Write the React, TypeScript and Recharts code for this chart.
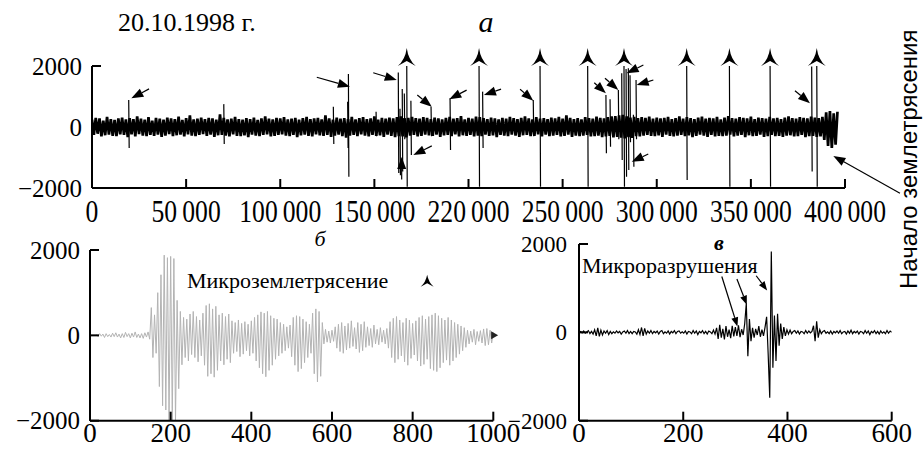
import React from 'react'
import { LineChart, Line, XAxis, YAxis, ReferenceLine, ReferenceDot } from 'recharts'

const SERIF = '"Liberation Serif", "Times New Roman", serif'
const SANS = '"Liberation Sans", Arial, sans-serif'

// ---- panel а: whole record, 20.10.1998 ----
const NOISE_STEP = 1000 // one value per 1000 samples
const quietNoise = [
  240, -260, 300, -220, 280, -310, 210, -270, 330, -250, 260, -290, 230, -300, 280, -240, 310, -260, 250, -330,
  290, -240, 260, -310, 350, -230, 270, -280, 240, -300, 320, -260, 210, -290, 300, -250, 270, -320, 240, -280,
  310, -230, 280, -300, 260, -270, 340, -250, 230, -310, 290, -240, 380, -280, 250, -300, 270, -260, 310, -230,
  260, -290, 300, -250, 280, -320, 240, -270, 410, -260, 300, -280, 250, -310, 270, -240, 330, -290, 260, -300,
  240, -270, 290, -330, 260, -250, 310, -280, 230, -300, 280, -260, 350, -240, 270, -310, 250, -290, 300, -260,
  280, -240, 320, -280, 250, -300, 270, -260, 300, -330, 240, -270, 290, -250, 330, -290, 260, -310, 280, -240,
  300, -270, 250, -290, 380, -260, 280, -320, 240, -280, 310, -250, 270, -300, 290, -350, 260, -280, 330, -260,
  250, -300, 290, -240, 320, -280, 260, -310, 280, -260, 350, -290, 240, -270, 300, -320, 270, -250, 310, -290,
  280, -330, 320, -300, 350, -310, 290, -340, 300, -280, 330, -260, 290, -310, 270, -290, 320, -250, 300, -270,
  260, -290, 310, -250, 280, -320, 250, -270, 300, -260, 330, -300, 270, -240, 290, -310, 360, -270, 250, -290,
  300, -260, 270, -310, 340, -280, 320, -300, 290, -250, 260, -290, 310, -270, 280, -330, 250, -260, 300, -280,
  270, -300, 330, -250, 290, -280, 260, -320, 300, -270, 350, -260, 280, -300, 250, -290, 320, -240, 270, -310,
  290, -250, 260, -300, 310, -280, 280, -260, 330, -310, 270, -290, 380, -250, 300, -320, 260, -280, 290, -300,
  250, -280, 320, -260, 290, -310, 270, -300, 340, -280, 300, -330, 280, -310, 320, -290, 350, -340, 360, -320,
  380, -350, 400, -370, 350, -330, 310, -360, 330, -300, 290, -310, 320, -280, 300, -260, 340, -290, 270, -300,
  310, -270, 280, -320, 300, -250, 330, -290, 260, -310, 290, -280, 350, -260, 270, -300, 320, -270, 290, -330,
  260, -290, 310, -250, 340, -280, 270, -320, 300, -260, 280, -310, 330, -290, 250, -300, 310, -280, 360, -250,
  290, -310, 270, -280, 320, -260, 300, -330, 280, -270, 340, -300, 260, -290, 310, -250, 290, -320, 270, -300,
  330, -260, 280, -300, 300, -290, 260, -320, 310, -280, 350, -270, 290, -310, 270, -300, 320, -260, 300, -330,
  280, -300, 340, -290, 310, -320, 290, -310, 330, -420, 480, -620, 520, -690, 450, -580, 500,
]
// [sample, peak, trough]
const topSpikes: [number, number, number][] = [
  [19500, 885, -690], [70000, 750, -560], [128200, 665, -560], [135800, 830, -690], [136200, 1740, -1630],
  [150900, 500, -300], [162700, 1790, -1510], [163600, 600, -1580], [164800, 1245, -1460], [165900, 1100, -400],
  [167200, 2000, -1960], [169400, 860, -920], [180100, 665, -300], [190200, 940, -755], [205600, 2000, -1960],
  [207500, 1160, -690], [234400, 885, -300], [238000, 2000, -1960], [263300, 2000, -1960], [273000, 1050, -860],
  [275200, 910, -645], [279600, 1215, -400], [281400, 1760, -1080], [282600, 2000, -1960], [283700, 1900, -1630],
  [284900, 1925, -1410], [285800, 1700, -500], [287600, 400, -1300], [289000, 1540, -400], [315900, 2000, -1740],
  [338600, 2000, -1960], [360200, 2000, -1960], [382300, 1980, -1460], [385000, 2000, -1960],
]
const starTimes = [167200, 205600, 238000, 263300, 282600, 315900, 338600, 360200, 385000]
// [tail sample, tail amp, tip sample, tip amp]
const topArrows: [number, number, number, number][] = [
  [30300, 1250, 20900, 940], [119400, 1630, 137000, 1320], [149400, 1780, 161900, 1540],
  [164500, -1720, 164500, -985], [180500, -620, 170700, -920], [172800, 1050, 180500, 665],
  [199000, 1210, 189800, 910], [217300, 1240, 208200, 1050], [227400, 1240, 234400, 860],
  [266800, 1450, 273000, 1105], [272500, 1600, 279600, 1215], [292900, 2030, 284000, 1760],
  [298200, 1540, 289300, 1380], [295500, -885, 286700, -1140], [373400, 1190, 381400, 780],
]
const quakeStartArrow: [number, number, number, number] = [429200, -2175, 393800, -950]
const topTicks = [0, 50000, 100000, 150000, 200000, 250000, 300000, 350000, 400000]
const topTickLabels = ['0', '50\u2009000', '100\u2009000', '150\u2009000', '220\u2009000', '250\u2009000', '300\u2009000', '350\u2009000', '400\u2009000']

// ---- panel б: microearthquake ----
const WAVE_START = 16
const WAVE_STEP = 4
const microquakeWave = [
  20, -30, 40, -20, 30, -50, 40, -30, 20, -40, 50, -30, 60, -40, 30, -60, 40, -50, 70, -30,
  40, -60, 50, -40, 80, -50, 30, -60, 40, -70, 60, -40, 80, -90,
  650, -520, 480, -420, 1000, -1200, 1420, -1650, 1880, -1750, 1820, -2000, 1850, -2000, 1800, -2000,
  820, -1250, 560, -690, 420, -520, 380, -600, 500, -450, 560, -520, 440, -620, 360, -480, 520, -700,
  700, -960, 740, -900, 620, -980, 680, -820, 480, -600, 520, -690, 440, -560, 500, -640, 340,
  -420, 300, -380, 360, -500, 280, -440, 320, -360, 260, -480, 340, -420,
  420, -600, 480, -760, 550, -900, 520, -970, 560, -820, 460, -700, 400, -560, 380,
  -480, 300, -420, 260, -360, 200, -300, 240,
  -500, 420, -700, 460, -850, 440, -780, 380, -640, 320, -520, 260, -420,
  520, -900, 620, -1090, 560, -960, 300,
  -200, 140, -160, 100, -180, 120, -140,
  200, -300, 260, -380, 300, -420, 220, -340, 280, -300, 340, -260, 180, -320, 300, -400, 260, -360,
  320, -280, 200, -240, 160, -280, 240, -200, 140, -220, 180, -160, 120, -200, 160,
  -300, 320, -520, 400, -640, 440, -560, 360, -480, 300, -620, 400, -700, 360, -540, 280, -460, 340,
  -600, 420, -720, 460, -680, 380, -560, 440, -780, 480, -820, 520, -850, 460, -760, 400, -640, 360,
  -580, 420, -700, 360, -600, 300, -520, 260, -440, 220, -360, 180, -280,
  120, -200, 100, -160, 140, -220, 90, -140, 110, -180, 150, -240, 160, -220, 120, -180, 80, -60,
]
const waveTicks = [0, 200, 400, 600, 800, 1000]
const waveStar: [number, number] = [836, 1140]
const waveEnd: [number, number] = [1002, 0]

// ---- panel в: microfractures ----
const FRACTURE_STEP = 3
const fractureWave = [
  0, 20, -10, 30, -20, 10, 40, -30, 20, -40, 60, -80, 100, -90, 50, -60, 30, -20, 40, -50,
  20, -30, 10, -20, 30, -10, 20, -40, 10, 30, -20, 40, -30, 20,
  -30, 20, 10, -40, 60, -50, 110, -80, 90, -40, 30, -20, 40, -30, 20, -10, 30, -40, 20, 40,
  -30, 10, -20, 30, -40, 20, -10, 40, -30, 20, 30, -20, 10,
  -20, 30, -40, 20, 10, -30, 40, -20, 30, -50, 20, -10, 40, -30, 20, -40, 30, 10, -30, 50, -40,
  100, -150, 170, -120, 80, -160, 140, -100, 60, -130, 150, -90,
  120, -80, 160, -110, 70, -60,
  200, 660, -540, 300, -200,
  100, -120, 80, -60, 140, -100, 60, -80, 120,
  350, -500, -1480, 1830, -800, 380, -650, 420, -300,
  200, -150, 120, -80, 60, -40, 50, -30, 20, 40, -20, 30, -40, 20, 10, -30, 40, -20, 30, -10, 20,
  150, -200, 250, -120, 60,
  -30, 20, 40, -20, 10, -30, 30, -40, 20, -10, 30, -20, 40, -30, 10, 20, -40, 30, -20, 50,
  -30, 20, -10, 30, -40, 20, 10, -30, 40, -20, 30, -50, 20, -10, 40, -30, 20, -40, 30, -20,
  10, -30, 40, -20, 30, 0,
]
const fractureTicks = [0, 200, 400, 600]
const fractureArrows: [number, number, number, number][] = [
  [274, 1265, 304, 135], [303, 1207, 322, 626], [340, 1281, 361, 950],
]
const ampTicks = [-2000, 0, 2000]

const noiseData = quietNoise.map((v, i) => ({ t: i * NOISE_STEP, v }))
// each spike is its own short segment: peak -> trough, broken by a null
const spikeData = topSpikes.flatMap(([t, hi, lo]) => [
  { t, v: hi }, { t: t + 250, v: lo }, { t: t + 260, v: null },
])
const waveData = microquakeWave.map((v, i) => ({ t: WAVE_START + i * WAVE_STEP, v }))
const fractureData = fractureWave.map((v, i) => ({ t: i * FRACTURE_STEP, v }))

const makeXTick = (labels: string[] | null, ticks: number[], fontSize: number, scaleX: number, dy: number) =>
  (props: any) => {
    const { x, y, payload } = props
    const idx = ticks.indexOf(payload.value)
    const text = labels ? labels[idx] : String(payload.value)
    return (
      <g>
        <line x1={x} x2={x} y1={y} y2={y - 9} stroke="#000" strokeWidth={2} />
        <text transform={`translate(${x},${y + dy}) scale(${scaleX},1)`} textAnchor="middle"
          style={{ fontFamily: SERIF }} fontSize={fontSize} fill="#000">{text}</text>
      </g>
    )
  }

const makeYTick = (fontSize: number, gap: number) => (props: any) => {
  const { x, y, payload } = props
  const v = payload.value
  const text = v < 0 ? `\u2212${Math.abs(v)}` : String(v)
  return (
    <g>
      <line x1={x} x2={x + 9} y1={y} y2={y} stroke="#000" strokeWidth={2} />
      <text x={x - gap} y={y} dy="0.35em" textAnchor="end" style={{ fontFamily: SERIF }} fontSize={fontSize} fill="#000">{text}</text>
    </g>
  )
}

const arrowShape = (len: number, half: number) => (p: any) => {
  const { x1, y1, x2, y2 } = p
  const dx = x2 - x1
  const dy = y2 - y1
  const d = Math.hypot(dx, dy) || 1
  const ux = dx / d
  const uy = dy / d
  const bx = x2 - ux * len
  const by = y2 - uy * len
  const pts = `${x2},${y2} ${bx - uy * half},${by + ux * half} ${bx + uy * half},${by - ux * half}`
  return (
    <g>
      <line x1={x1} y1={y1} x2={bx} y2={by} stroke="#000" strokeWidth={1.2} />
      <polygon points={pts} fill="#000" />
    </g>
  )
}

const starShape = (hw: number, h: number, notch: number) => (p: any) => {
  const { cx, cy } = p
  const d = `M${cx},${cy - h} Q${cx + 1.5},${cy - h * 0.35} ${cx + hw},${cy} L${cx},${cy - notch} L${cx - hw},${cy} Q${cx - 1.5},${cy - h * 0.35} ${cx},${cy - h} Z`
  return <path d={d} fill="#000" />
}

const endMark = (p: any) => {
  const { cx, cy } = p
  return <path d={`M${cx - 3},${cy - 4} L${cx + 4},${cy} L${cx - 3},${cy + 4} Z`} fill="#222" />
}

const axisLine = { stroke: '#000', strokeWidth: 2 }

export default function App() {
  return (
    <div style={{ position: 'absolute', left: 0, top: 0, width: 923, height: 455, background: '#fff', overflow: 'hidden' }}>
      {/* а */}
      <div style={{ position: 'absolute', left: 0, top: 0 }}>
        <LineChart width={923} height={232} margin={{ top: 66, right: 78, left: 32, bottom: 4 }}>
          <XAxis dataKey="t" type="number" domain={[0, 400000]} ticks={topTicks} interval={0} allowDataOverflow
            height={40} axisLine={axisLine} tickLine={false} tickSize={0} tickMargin={0}
            tick={makeXTick(topTickLabels, topTicks, 32, 0.8, 33.5)} />
          <YAxis type="number" domain={[-2000, 2000]} ticks={ampTicks} interval={0} allowDataOverflow width={60}
            axisLine={axisLine} tickLine={false} tickSize={0} tickMargin={0} tick={makeYTick(25, 10)} />
          <Line data={noiseData} dataKey="v" type="linear" stroke="#000" strokeWidth={2.7} strokeLinejoin="miter"
            dot={false} isAnimationActive={false} />
          <Line data={spikeData} dataKey="v" type="linear" stroke="#000" strokeWidth={1.2} connectNulls={false}
            dot={false} isAnimationActive={false} />
          {starTimes.map((t) => (
            <ReferenceDot key={`s${t}`} x={t} y={2000} r={0} ifOverflow="visible" shape={starShape(9, 18, 5)} />
          ))}
          {topArrows.map(([t1, v1, t2, v2], i) => (
            <ReferenceLine key={`a${i}`} segment={[{ x: t1, y: v1 }, { x: t2, y: v2 }]} ifOverflow="visible"
              shape={arrowShape(12, 4.5)} />
          ))}
          <ReferenceLine segment={[{ x: quakeStartArrow[0], y: quakeStartArrow[1] }, { x: quakeStartArrow[2], y: quakeStartArrow[3] }]}
            ifOverflow="visible" shape={arrowShape(12, 4.5)} />
        </LineChart>
      </div>

      {/* б */}
      <div style={{ position: 'absolute', left: 0, top: 225 }}>
        <LineChart width={520} height={230} data={waveData} margin={{ top: 25, right: 26.7, left: 30, bottom: 4.3 }}>
          <XAxis dataKey="t" type="number" domain={[0, 1000]} ticks={waveTicks} interval={0} allowDataOverflow
            height={30} axisLine={axisLine} tickLine={false} tickSize={0} tickMargin={0}
            tick={makeXTick(null, waveTicks, 27, 1, 21)} />
          <YAxis type="number" domain={[-2000, 2000]} ticks={ampTicks} interval={0} allowDataOverflow width={60}
            axisLine={axisLine} tickLine={false} tickSize={0} tickMargin={0} tick={makeYTick(25, 10)} />
          <Line dataKey="v" type="linear" stroke="#b3b3b3" strokeWidth={1} dot={false} isAnimationActive={false} />
          <ReferenceDot x={waveStar[0]} y={waveStar[1]} r={0} ifOverflow="visible" shape={starShape(6.5, 12, 3.5)} />
          <ReferenceDot x={waveEnd[0]} y={waveEnd[1]} r={0} ifOverflow="visible" shape={endMark} />
        </LineChart>
      </div>

      {/* в */}
      <div style={{ position: 'absolute', left: 500, top: 225 }}>
        <LineChart width={423} height={230} data={fractureData} margin={{ top: 19, right: 31.3, left: 19, bottom: 4.3 }}>
          <XAxis dataKey="t" type="number" domain={[0, 600]} ticks={fractureTicks} interval={0} allowDataOverflow
            height={30} axisLine={axisLine} tickLine={false} tickSize={0} tickMargin={0}
            tick={makeXTick(null, fractureTicks, 27, 1, 21)} />
          <YAxis type="number" domain={[-2000, 2000]} ticks={ampTicks} interval={0} allowDataOverflow width={60}
            axisLine={axisLine} tickLine={false} tickSize={0} tickMargin={0} tick={makeYTick(23, 12)} />
          <Line dataKey="v" type="linear" stroke="#000" strokeWidth={1.2} dot={false} isAnimationActive={false} />
          {fractureArrows.map(([t1, v1, t2, v2], i) => (
            <ReferenceLine key={`f${i}`} segment={[{ x: t1, y: v1 }, { x: t2, y: v2 }]} ifOverflow="visible"
              shape={arrowShape(9, 3.5)} />
          ))}
        </LineChart>
      </div>

      {/* captions */}
      <svg width={923} height={455} style={{ position: 'absolute', left: 0, top: 0, pointerEvents: 'none' }}>
        <text x={118} y={31} style={{ fontFamily: SERIF }} fontSize={26} fill="#000">20.10.1998 г.</text>
        <text x={486} y={32} textAnchor="middle" style={{ fontFamily: SERIF }} fontStyle="italic" fontSize={30} fill="#000">а</text>
        <text x={320} y={246} textAnchor="middle" style={{ fontFamily: SERIF }} fontStyle="italic" fontSize={22} fill="#000">б</text>
        <text x={719} y={250} textAnchor="middle" style={{ fontFamily: SERIF }} fontStyle="italic" fontWeight="bold" fontSize={22} fill="#000">в</text>
        <text x={187} y={288} style={{ fontFamily: SERIF }} fontSize={22} fill="#000">Микроземлетрясение</text>
        <text x={582} y={273} style={{ fontFamily: SERIF }} fontSize={22} fill="#000">Микроразрушения</text>
        <text x={917} y={289} transform="rotate(-90 917 289)" style={{ fontFamily: SANS }} fontSize={24} fill="#000">Начало землетрясения</text>
      </svg>
    </div>
  )
}
